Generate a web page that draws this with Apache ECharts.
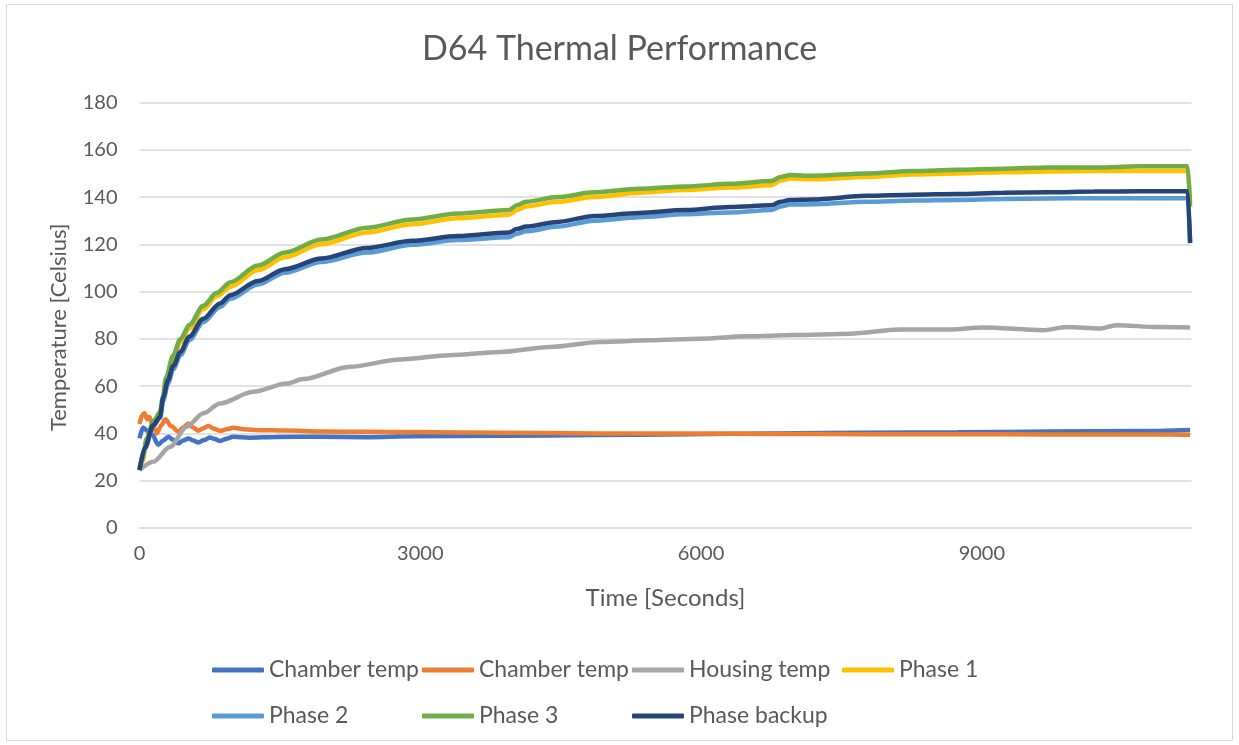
<!DOCTYPE html>
<html>
<head>
<meta charset="utf-8">
<script src="https://cdn.jsdelivr.net/npm/echarts@6/dist/echarts.min.js"></script>
<style>
html,body{margin:0;padding:0;background:#fff;}
#chart{width:1239px;height:745px;}
</style>
</head>
<body>
<div id="chart"></div>
<script>
const seriesNames = ['Chamber temp', 'Chamber temp ', 'Housing temp', 'Phase 1', 'Phase 2', 'Phase 3', 'Phase backup'];
const seriesColors = ['#4472C4', '#ED7D31', '#A5A5A5', '#FFC000', '#5B9BD5', '#70AD47', '#264478'];
const legendColumns = [['Chamber temp', 'Phase 2'], ['Chamber temp ', 'Phase 3'], ['Housing temp', 'Phase backup'], ['Phase 1']];

const chamberTemp1 = [[0,38],[39,42.5],[87,41],[136,39.5],[199,35.2],[253,37],[308,38.6],[359,37.3],[415,35.8],[466,37],[522,37.9],[573,37],[628,36.2],[690,37.2],[750,38.3],[806,37.6],[860,36.8],[933,37.8],[1002,38.6],[1166,38.2],[1457,38.5],[1943,38.6],[2429,38.4],[2914,38.8],[3886,39],[4857,39.3],[5828,39.7],[6800,40],[7771,40.3],[8743,40.5],[9714,40.8],[10685,41],[11225,41.5]];

const chamberTemp2 = [[0,44],[24,47.5],[53,48.5],[83,46],[107,47],[146,43],[185,40],[233,43.5],[277,46],[340,43],[415,40.7],[466,42.5],[522,44.2],[573,42.5],[628,41.1],[680,42.2],[735,43.2],[797,42],[860,41.1],[933,41.8],[1002,42.4],[1117,41.8],[1263,41.4],[1554,41.2],[1943,40.8],[2429,40.7],[2914,40.6],[3886,40.3],[4857,40],[5828,40],[6800,39.8],[7771,39.7],[8743,39.7],[9714,39.6],[10685,39.6],[11225,39.5]];

const housingTemp = [[0,24.5],[148,28],[325,34.3],[504,42.8],[682,48.5],[860,52.7],[1216,57.6],[1573,61.1],[1750,63],[2249,68.2],[2783,71.3],[3317,73.1],[3852,74.5],[4385,76.6],[4919,78.7],[5454,79.4],[5988,80.1],[6486,81.1],[6994,81.6],[7590,82.2],[8124,84],[8658,84],[9011,84.8],[9652,83.7],[9904,85],[10260,84.4],[10439,85.8],[10880,85],[11225,84.8]];

const phase1 = [[0,25],[29,28],[78,37],[146,44],[219,48],[248,54],[282,61.5],[359,71],[437,78.5],[534,84.5],[680,92.5],[826,98],[971,102],[1263,109],[1554,114.5],[1943,120],[2429,125],[2914,128.5],[3400,131],[3950,132.5],[4030,134.5],[4130,136],[4470,138],[4860,140],[5340,141.8],[5830,143],[6310,144],[6750,145],[6850,147],[6950,147.8],[7190,147.5],[7770,148.5],[8260,149.5],[8740,150],[9230,150.5],[9714,150.8],[10200,151],[10685,151],[11200,151],[11225,138]];

const phase2 = [[0,24.5],[58,33.5],[146,43],[219,46.5],[255,54],[304,61],[359,67],[437,73],[534,79.5],[680,87],[860,93.5],[971,97],[1263,103],[1554,108],[1943,112.5],[2429,116.5],[2914,119.8],[3400,121.8],[3950,123],[4030,124.5],[4130,125.5],[4470,127.5],[4860,130],[5340,131.5],[5830,132.7],[6310,133.5],[6750,134.5],[6850,136],[6950,136.8],[7190,137],[7770,138],[8260,138.5],[8740,138.8],[9230,139.2],[9714,139.4],[10200,139.5],[10685,139.5],[11200,139.5],[11225,121]];

const phase3 = [[0,25],[29,29],[78,38],[146,45],[219,49],[248,55],[282,63.5],[359,73],[437,80],[534,86],[680,94],[826,99.5],[971,104],[1263,111],[1554,116.5],[1943,122],[2429,127],[2914,130.5],[3400,133],[3950,134.5],[4030,136.5],[4130,138],[4470,140],[4860,142],[5340,143.5],[5830,144.5],[6310,145.6],[6750,146.8],[6850,148.5],[6950,149.3],[7190,149],[7770,150],[8260,151],[8740,151.5],[9230,152],[9714,152.5],[10200,152.5],[10685,153],[11200,153],[11225,136]];

const phaseBackup = [[0,24.5],[58,34],[146,43.5],[219,47],[255,55.5],[304,62.5],[359,68.5],[437,74.5],[534,81],[680,88.5],[860,95],[971,98.5],[1263,104.5],[1554,109.5],[1943,114],[2429,118.5],[2914,121.5],[3400,123.5],[3950,125],[4030,126.5],[4130,127.5],[4470,129.5],[4860,132],[5340,133.3],[5830,134.5],[6310,135.8],[6750,136.5],[6850,138],[6950,138.8],[7190,139],[7770,140.5],[8260,141],[8740,141.3],[9230,141.8],[9714,142],[10200,142.3],[10685,142.5],[11200,142.5],[11225,120.5]];

const allData = [chamberTemp1, chamberTemp2, housingTemp, phase1, phase2, phase3, phaseBackup];

const FONT = 'Lato, "Open Sans", sans-serif';
const TXT = '#595959';

const chart = echarts.init(document.getElementById('chart'), null, {renderer: 'canvas'});

const legendLefts = [207, 417, 627, 837];
const legends = legendColumns.map((names, i) => ({
  orient: 'vertical',
  left: legendLefts[i],
  top: 653,
  icon: 'roundRect',
  itemWidth: 52,
  itemHeight: 5,
  itemGap: 22,
  selectedMode: false,
  data: names,
  textStyle: {color: TXT, fontSize: 23, fontFamily: FONT, lineHeight: 24}
}));

const option = {
  backgroundColor: '#fff',
  animation: false,
  color: seriesColors,
  title: {
    text: 'D64 Thermal Performance',
    left: 'center',
    top: 27,
    textStyle: {color: TXT, fontSize: 34, fontWeight: 'normal', fontFamily: FONT}
  },
  graphic: [{
    type: 'rect',
    shape: {x: 6.5, y: 4.5, width: 1226, height: 736},
    style: {fill: 'none', stroke: '#d9d9d9', lineWidth: 1},
    silent: true
  }],
  legend: legends,
  grid: {left: 139.5, right: 47.5, top: 102.5, bottom: 217, containLabel: false},
  xAxis: {
    type: 'value',
    min: 0,
    max: 11240,
    interval: 3000,
    name: 'Time [Seconds]',
    nameLocation: 'middle',
    nameGap: 58,
    nameTextStyle: {color: TXT, fontSize: 24, fontFamily: FONT},
    axisLine: {show: true, lineStyle: {color: '#d9d9d9', width: 1.5}},
    axisTick: {show: false},
    splitLine: {show: false},
    axisLabel: {color: TXT, fontSize: 20, fontFamily: FONT, margin: 16, showMaxLabel: false, formatter: v => String(v)}
  },
  yAxis: {
    type: 'value',
    min: 0,
    max: 180,
    interval: 20,
    name: 'Temperature [Celsius]',
    nameLocation: 'middle',
    nameGap: 70,
    nameTextStyle: {color: TXT, fontSize: 22, fontFamily: FONT, padding: [0, 24, 0, 0]},
    axisLine: {show: false},
    axisTick: {show: false},
    splitLine: {show: true, lineStyle: {color: '#d9d9d9', width: 1.5}},
    axisLabel: {color: TXT, fontSize: 20, fontFamily: FONT, margin: 22}
  },
  series: seriesNames.map((n, i) => ({
    name: n,
    type: 'line',
    data: allData[i],
    showSymbol: false,
    symbol: 'none',
    smooth: 0.3,
    smoothMonotone: 'x',
    lineStyle: {width: 4.5, color: seriesColors[i]},
    itemStyle: {color: seriesColors[i]},
    z: 2 + i
  }))
};

chart.setOption(option);
</script>
</body>
</html>
